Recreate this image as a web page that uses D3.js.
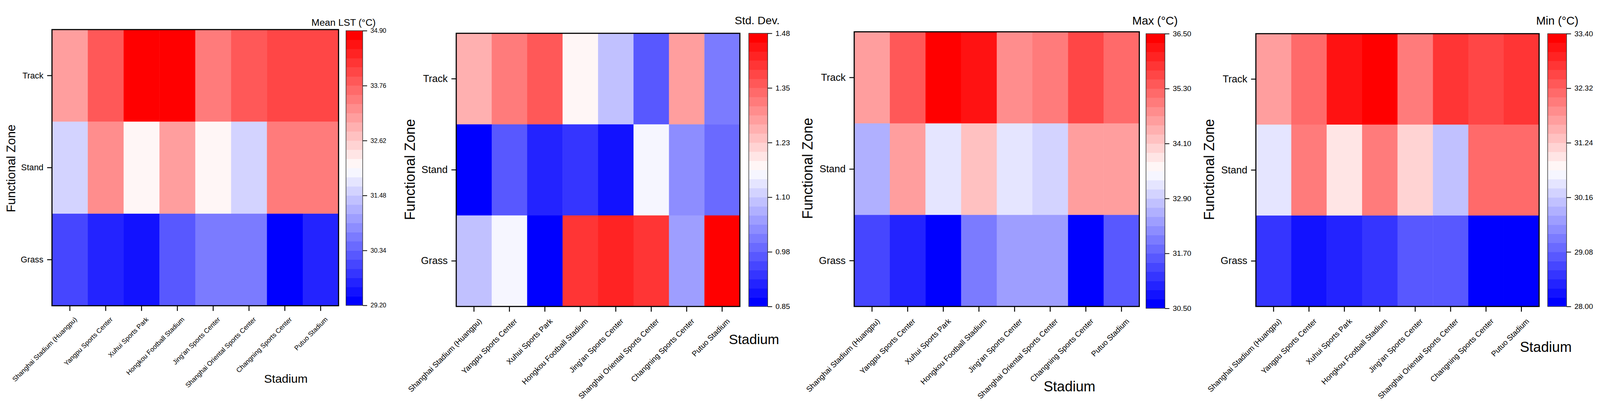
<!DOCTYPE html>
<html>
<head>
<meta charset="utf-8">
<script src="https://cdn.jsdelivr.net/npm/d3@7"></script>
<style>
  html, body { margin: 0; padding: 0; background: #fff; overflow: hidden; }
  svg { display: block; width: 100vw; height: 100vh; }
  text { font-family: "Liberation Sans", Arial, sans-serif; fill: #000; }
</style>
</head>
<body>
<script>
const stadiums = ["Shanghai Stadium (Huangpu)", "Yangpu Sports Center", "Xuhui Sports Park",
  "Hongkou Football Stadium", "Jing'an Sports Center", "Shanghai Oriental Sports Center",
  "Changning Sports Center", "Putuo Stadium"];
const zones = ["Track", "Stand", "Grass"];

// rows follow zones, columns follow stadiums
const meanLST = [
  [33.10, 33.86, 34.85, 34.82, 33.49, 33.86, 34.05, 34.04],
  [31.58, 33.30, 32.15, 33.10, 32.15, 31.58, 33.49, 33.49],
  [30.06, 29.68, 29.49, 30.25, 30.63, 30.62, 29.25, 29.67]
];
const stdDev = [
  [1.26, 1.32, 1.36, 1.18, 1.09, 0.97, 1.28, 1.01],
  [0.86, 0.97, 0.90, 0.92, 0.88, 1.15, 1.03, 0.99],
  [1.09, 1.15, 0.86, 1.41, 1.43, 1.41, 1.05, 1.47]
];
const maxLST = [
  [34.6, 35.4, 36.45, 36.2, 34.8, 35.0, 35.6, 35.2],
  [32.6, 34.6, 33.2, 34.2, 33.2, 33.0, 34.6, 34.6],
  [31.4, 31.0, 30.6, 32.0, 32.4, 32.4, 30.55, 31.6]
];
const minLST = [
  [31.69, 32.23, 33.13, 33.35, 32.05, 32.77, 32.59, 32.77],
  [30.43, 32.05, 30.97, 32.05, 31.15, 30.07, 32.23, 32.23],
  [28.63, 28.27, 28.45, 28.63, 28.99, 28.99, 28.05, 28.09]
];

const meanTicks = [29.2, 30.34, 31.48, 32.62, 33.76, 34.9];
const stdTicks = [0.85, 0.976, 1.102, 1.228, 1.354, 1.48];
const maxTicks = [30.5, 31.7, 32.9, 34.1, 35.3, 36.5];
const minTicks = [28.0, 29.08, 30.16, 31.24, 32.32, 33.4];

const nBands = 30;
const bwr = d3.scaleLinear().domain([0, 0.5, 1]).range(["#0000ff", "#ffffff", "#ff0000"]);
const bandColors = d3.range(nBands).map(k => bwr(k / (nBands - 1)));

const W = 4310, H = 1060;
const svg = d3.select("body").append("svg")
  .attr("viewBox", `0 0 ${W} ${H}`)
  .attr("preserveAspectRatio", "xMidYMid meet");

const panels = [
  { values: meanLST, ticks: meanTicks, title: "Mean LST (°C)",
    plot: [140, 912, 52, 796], cb: [932, 977, 55, 795],
    titlePos: [839, 42, 26], yTitle: [29, 426, 33], xTitle: [770, 1004, 32],
    yFont: 23, xFont: 18, cbFont: 17, xOff: [20, 37] },
  { values: stdDev, ticks: stdTicks, title: "Std. Dev.",
    plot: [1229, 1993, 62, 798], cb: [2017, 2068, 62, 798],
    titlePos: [1979, 38, 30], yTitle: [1104, 429, 38], xTitle: [2031, 899, 37],
    yFont: 27, xFont: 20.5, cbFont: 20, xOff: [22, 40] },
  { values: maxLST, ticks: maxTicks, title: "Max (°C)",
    plot: [2301, 3069, 58, 798], cb: [3087, 3138, 63, 803],
    titlePos: [3050, 39, 31], yTitle: [2175, 426, 38], xTitle: [2881, 1027, 38],
    yFont: 27, xFont: 20.5, cbFont: 20, xOff: [22, 40] },
  { values: minLST, ticks: minTicks, title: "Min (°C)",
    plot: [3383, 4146, 63, 798], cb: [4169, 4220, 63, 798],
    titlePos: [4138, 39, 31], yTitle: [3257, 429, 38], xTitle: [4164, 920, 38],
    yFont: 27, xFont: 20.5, cbFont: 20, xOff: [22, 40] }
];

panels.forEach(drawPanel);

function drawPanel(p) {
  const [px0, px1, py0, py1] = p.plot;
  const lo = p.ticks[0], hi = p.ticks[p.ticks.length - 1];
  const color = d3.scaleQuantize().domain([lo, hi]).range(bandColors);

  const x = d3.scaleBand().domain(stadiums).range([px0, px1]);
  const y = d3.scaleBand().domain(zones).range([py0, py1]);

  const cells = [];
  zones.forEach((z, i) => stadiums.forEach((s, j) => cells.push({ z, s, v: p.values[i][j] })));

  const g = svg.append("g");
  g.selectAll("rect.cell")
    .data(cells)
    .enter()
    .append("rect")
    .attr("class", "cell")
    .attr("x", d => x(d.s))
    .attr("y", d => y(d.z))
    .attr("width", x.bandwidth() + 0.5)
    .attr("height", y.bandwidth() + 0.5)
    .attr("fill", d => color(d.v));

  g.append("rect")
    .attr("x", px0).attr("y", py0)
    .attr("width", px1 - px0).attr("height", py1 - py0)
    .attr("fill", "none").attr("stroke", "#000").attr("stroke-width", 3);

  // y axis
  const ya = g.append("g")
    .attr("transform", `translate(${px0 - 1},0)`)
    .call(d3.axisLeft(y).tickSize(12).tickPadding(10));
  ya.select(".domain").remove();
  ya.selectAll(".tick line").attr("stroke", "#000").attr("stroke-width", 2.5);
  ya.selectAll(".tick text").style("font-size", p.yFont + "px")
    .style("font-family", '"Liberation Sans", Arial, sans-serif').attr("fill", "#000");

  // x axis
  const xa = g.append("g")
    .attr("transform", `translate(0,${py1 + 1})`)
    .call(d3.axisBottom(x).tickSize(13));
  xa.select(".domain").remove();
  xa.selectAll(".tick line").attr("stroke", "#000").attr("stroke-width", 2.5);
  xa.selectAll(".tick text")
    .attr("x", 0).attr("y", 0).attr("dy", 0)
    .attr("transform", `translate(${p.xOff[0]},${p.xOff[1]}) rotate(-45)`)
    .style("text-anchor", "end")
    .style("font-size", p.xFont + "px")
    .style("font-family", '"Liberation Sans", Arial, sans-serif')
    .attr("fill", "#000");

  // axis titles
  g.append("text")
    .attr("transform", `translate(${p.yTitle[0] + p.yTitle[2] * 0.36},${p.yTitle[1]}) rotate(-90)`)
    .attr("text-anchor", "middle")
    .style("font-size", p.yTitle[2] + "px")
    .text("Functional Zone");
  g.append("text")
    .attr("x", p.xTitle[0]).attr("y", p.xTitle[1])
    .attr("text-anchor", "middle")
    .style("font-size", p.xTitle[2] + "px")
    .text("Stadium");

  // colour bar
  const [cx0, cx1, cy0, cy1] = p.cb;
  const cbScale = d3.scaleLinear().domain([lo, hi]).range([cy1, cy0]);
  const step = (hi - lo) / nBands;
  g.selectAll("rect.band")
    .data(bandColors)
    .enter()
    .append("rect")
    .attr("class", "band")
    .attr("x", cx0)
    .attr("y", (c, k) => cbScale(lo + (k + 1) * step))
    .attr("width", cx1 - cx0)
    .attr("height", (c, k) => cbScale(lo + k * step) - cbScale(lo + (k + 1) * step) + 0.5)
    .attr("fill", c => c);
  g.append("rect")
    .attr("x", cx0).attr("y", cy0)
    .attr("width", cx1 - cx0).attr("height", cy1 - cy0)
    .attr("fill", "none").attr("stroke", "#333").attr("stroke-width", 1.5);

  const ca = g.append("g")
    .attr("transform", `translate(${cx1},0)`)
    .call(d3.axisRight(cbScale).tickValues(p.ticks).tickFormat(d3.format(".2f"))
      .tickSize(12).tickPadding(9));
  ca.select(".domain").remove();
  ca.selectAll(".tick line").attr("stroke", "#000").attr("stroke-width", 2);
  ca.selectAll(".tick text").style("font-size", p.cbFont + "px")
    .style("font-family", '"Liberation Sans", Arial, sans-serif').attr("fill", "#000");

  g.append("text")
    .attr("x", p.titlePos[0]).attr("y", p.titlePos[1])
    .style("font-size", p.titlePos[2] + "px")
    .text(p.title);
}
</script>
</body>
</html>
